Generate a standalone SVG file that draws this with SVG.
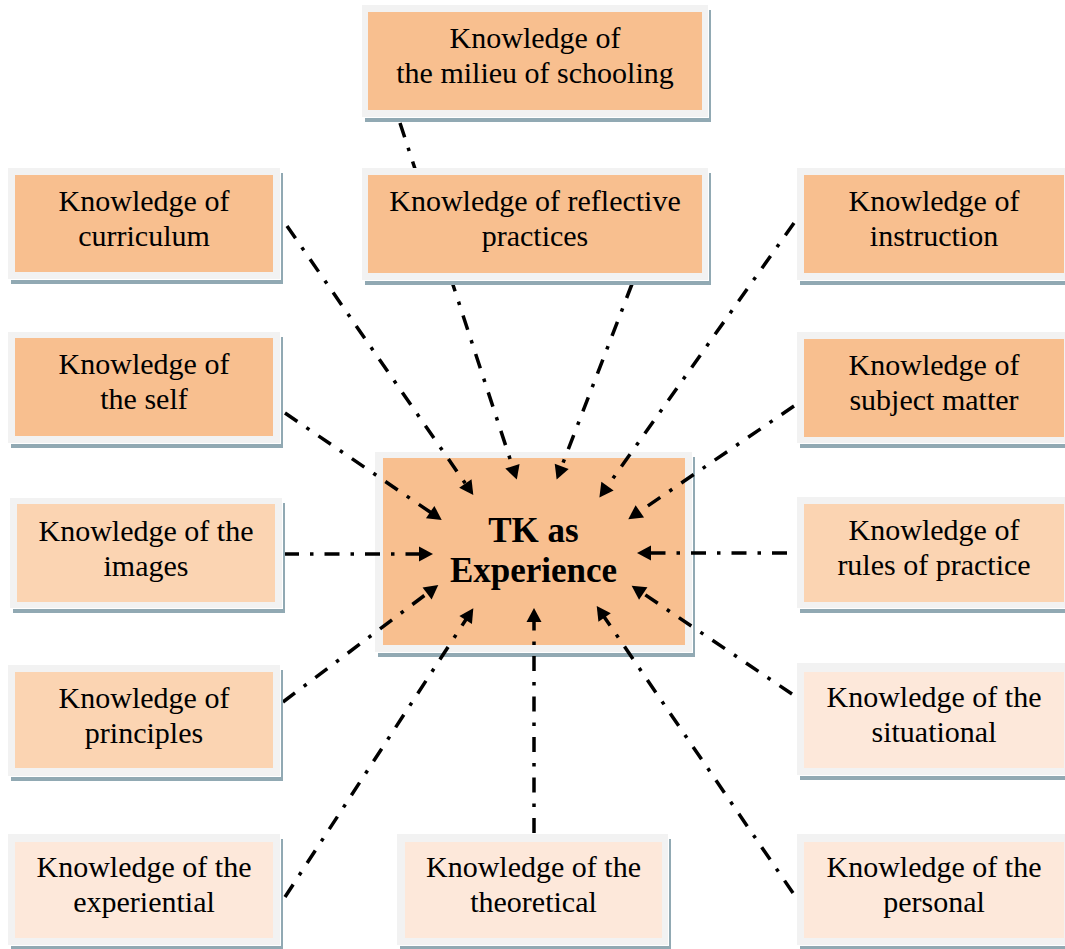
<svg xmlns="http://www.w3.org/2000/svg" width="1065" height="949" viewBox="0 0 1065 949">
<style>
.sh{fill:#91a9b3}
.wg{fill:#ffffff}
.fr{fill:#f2f2f2}
.d{fill:#f8bf8f}
.m{fill:#fbd4b2}
.l{fill:#fde8da}
.t{font-family:"Liberation Serif","Times New Roman",serif;font-size:30px;fill:#000;text-anchor:middle}
.tb{font-family:"Liberation Serif","Times New Roman",serif;font-size:35px;font-weight:bold;fill:#000;text-anchor:middle}
.c{fill:none;stroke:#000;stroke-width:3.5;stroke-dasharray:15 11 3.5 11;marker-end:url(#ah)}
</style>
<defs>
<marker id="ah" markerUnits="userSpaceOnUse" markerWidth="15" markerHeight="15" refX="5" refY="7.5" orient="auto" overflow="visible">
<path d="M0,0 L14,7.5 L0,15 z" fill="#000"/>
</marker>
</defs>
<rect width="1065" height="949" fill="#fff"/>

<g id="center">
<rect class="sh" x="378" y="457" width="317" height="200"/>
<rect class="wg" x="376" y="453" width="317" height="200"/>
<rect class="fr" x="375" y="452" width="317" height="200"/>
<rect class="d" x="383" y="458" width="302" height="187"/>
<text class="tb" x="533.5" y="541.5">TK as</text>
<text class="tb" x="533.5" y="581.5">Experience</text>
</g>

<g id="connectors">
<line class="c" x1="400" y1="123" x2="514" y2="471"/>
<line class="c" x1="632" y1="284" x2="559.9" y2="471"/>
<line class="c" x1="287" y1="226" x2="468.2" y2="487.6"/>
<line class="c" x1="794" y1="223" x2="604.6" y2="490.2"/>
<line class="c" x1="285" y1="413" x2="434.3" y2="514.9"/>
<line class="c" x1="794" y1="406" x2="635.7" y2="514.2"/>
<line class="c" x1="284" y1="554" x2="424" y2="554"/>
<line class="c" x1="787" y1="553" x2="646" y2="553"/>
<line class="c" x1="283" y1="702" x2="431.1" y2="590.4"/>
<line class="c" x1="792" y1="694" x2="639.1" y2="590.7"/>
<line class="c" x1="285" y1="897" x2="468.4" y2="615.8"/>
<line class="c" x1="534" y1="833" x2="534" y2="617"/>
<line class="c" x1="793" y1="893" x2="601.8" y2="613.4"/>
</g>

<g id="milieu">
<rect class="sh" x="365" y="10" width="346" height="112"/>
<rect class="wg" x="363" y="6" width="346" height="112"/>
<rect class="fr" x="362" y="5" width="346" height="112"/>
<rect class="d" x="368" y="12" width="334" height="98"/>
<text class="t" x="535" y="48">Knowledge of</text>
<text class="t" x="535" y="83">the milieu of schooling</text>
</g>

<g id="reflective">
<rect class="sh" x="365" y="173" width="346" height="112"/>
<rect class="wg" x="363" y="169" width="346" height="112"/>
<rect class="fr" x="362" y="168" width="346" height="112"/>
<rect class="d" x="368" y="175" width="334" height="98"/>
<text class="t" x="535" y="211">Knowledge of reflective</text>
<text class="t" x="535" y="246">practices</text>
</g>

<g id="curriculum">
<rect class="sh" x="11" y="173" width="272" height="111"/>
<rect class="wg" x="9" y="169" width="272" height="111"/>
<rect class="fr" x="8" y="168" width="272" height="111"/>
<rect class="d" x="15" y="175" width="258" height="97"/>
<text class="t" x="144" y="210.5">Knowledge of</text>
<text class="t" x="144" y="245.5">curriculum</text>
</g>

<g id="self">
<rect class="sh" x="11" y="337" width="272" height="111"/>
<rect class="wg" x="9" y="333" width="272" height="111"/>
<rect class="fr" x="8" y="332" width="272" height="111"/>
<rect class="d" x="15" y="338" width="258" height="98"/>
<text class="t" x="144" y="374">Knowledge of</text>
<text class="t" x="144" y="409">the self</text>
</g>

<g id="images">
<rect class="sh" x="13" y="503" width="272" height="110"/>
<rect class="wg" x="11" y="499" width="272" height="110"/>
<rect class="fr" x="10" y="498" width="272" height="110"/>
<rect class="m" x="17" y="504" width="258" height="98"/>
<text class="t" x="146" y="540.5">Knowledge of the</text>
<text class="t" x="146" y="575.5">images</text>
</g>

<g id="principles">
<rect class="sh" x="11" y="670" width="272" height="111"/>
<rect class="wg" x="9" y="666" width="272" height="111"/>
<rect class="fr" x="8" y="665" width="272" height="111"/>
<rect class="m" x="15" y="672" width="258" height="96"/>
<text class="t" x="144" y="707.5">Knowledge of</text>
<text class="t" x="144" y="742.5">principles</text>
</g>

<g id="experiential">
<rect class="sh" x="11" y="839" width="272" height="111"/>
<rect class="wg" x="9" y="835" width="272" height="111"/>
<rect class="fr" x="8" y="834" width="272" height="111"/>
<rect class="l" x="15" y="842" width="258" height="96"/>
<text class="t" x="144" y="876.5">Knowledge of the</text>
<text class="t" x="144" y="911.5">experiential</text>
</g>

<g id="theoretical">
<rect class="sh" x="400" y="839" width="271" height="111"/>
<rect class="wg" x="398" y="835" width="271" height="111"/>
<rect class="fr" x="397" y="834" width="271" height="111"/>
<rect class="l" x="405" y="842" width="257" height="96"/>
<text class="t" x="533.5" y="876.5">Knowledge of the</text>
<text class="t" x="533.5" y="911.5">theoretical</text>
</g>

<g id="instruction">
<rect class="sh" x="800" y="173" width="274" height="112"/>
<rect class="wg" x="798" y="169" width="274" height="112"/>
<rect class="fr" x="797" y="168" width="274" height="112"/>
<rect class="d" x="804" y="175" width="260" height="98"/>
<text class="t" x="934" y="211">Knowledge of</text>
<text class="t" x="934" y="246">instruction</text>
</g>

<g id="subject">
<rect class="sh" x="800" y="337" width="274" height="111"/>
<rect class="wg" x="798" y="333" width="274" height="111"/>
<rect class="fr" x="797" y="332" width="274" height="111"/>
<rect class="d" x="804" y="339" width="260" height="98"/>
<text class="t" x="934" y="374.5">Knowledge of</text>
<text class="t" x="934" y="409.5">subject matter</text>
</g>

<g id="rules">
<rect class="sh" x="800" y="502" width="274" height="111"/>
<rect class="wg" x="798" y="498" width="274" height="111"/>
<rect class="fr" x="797" y="497" width="274" height="111"/>
<rect class="m" x="804" y="504" width="260" height="98"/>
<text class="t" x="934" y="539.5">Knowledge of</text>
<text class="t" x="934" y="574.5">rules of practice</text>
</g>

<g id="situational">
<rect class="sh" x="800" y="668" width="274" height="112"/>
<rect class="wg" x="798" y="664" width="274" height="112"/>
<rect class="fr" x="797" y="663" width="274" height="112"/>
<rect class="l" x="804" y="672" width="260" height="96"/>
<text class="t" x="934" y="707">Knowledge of the</text>
<text class="t" x="934" y="742">situational</text>
</g>

<g id="personal">
<rect class="sh" x="800" y="839" width="274" height="111"/>
<rect class="wg" x="798" y="835" width="274" height="111"/>
<rect class="fr" x="797" y="834" width="274" height="111"/>
<rect class="l" x="804" y="842" width="260" height="96"/>
<text class="t" x="934" y="876.5">Knowledge of the</text>
<text class="t" x="934" y="911.5">personal</text>
</g>
</svg>
